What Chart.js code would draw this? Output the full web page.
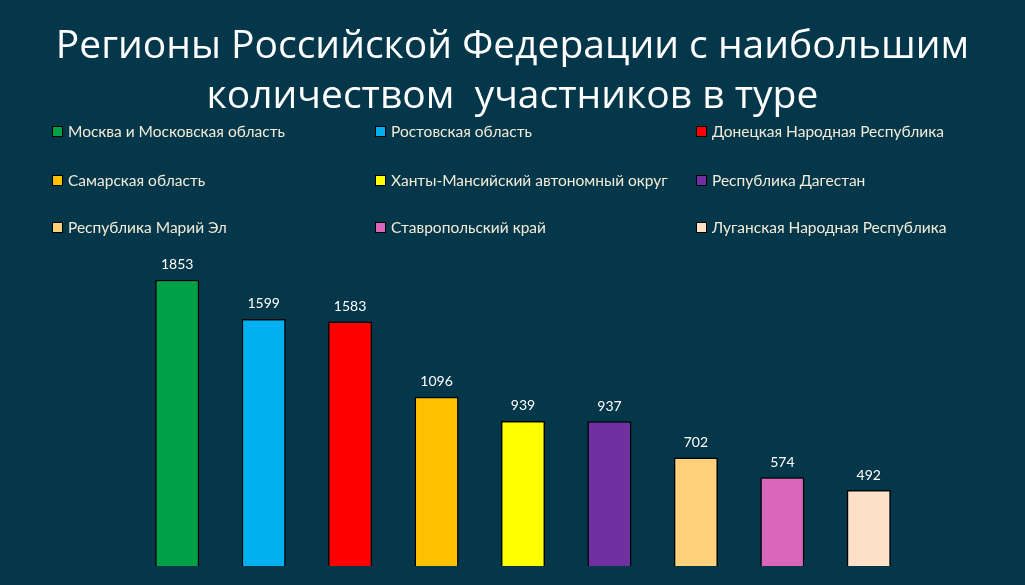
<!DOCTYPE html>
<html><head><meta charset="utf-8">
<script src="https://cdn.jsdelivr.net/npm/chart.js@4"></script>
<style>
html,body{margin:0;padding:0;background:#05374a;width:1025px;height:585px;overflow:hidden;font-family:Lato,"Open Sans",sans-serif}
#title{position:absolute;left:0;top:18px;width:1025px;text-align:center;color:#fff;font-size:39px;line-height:50px;font-family:"Open Sans",Lato,sans-serif}
#legend{position:absolute;left:0;top:0}
.li{position:absolute;color:#f2ecd8;font-size:15.5px;white-space:nowrap;line-height:18px}
.li span{display:inline-block;width:9px;height:9px;border:1px solid #000;margin-right:5px;vertical-align:0px}
#wrap{position:absolute;left:0;top:0;width:1025px;height:585px}
</style></head><body>
<div id="wrap"><canvas id="c"></canvas></div>
<div id="title">Регионы Российской Федерации с наибольшим<br>количеством&nbsp; участников в туре</div>
<div id="legend"></div>
<script>
const categories=["Москва и Московская область","Ростовская область","Донецкая Народная Республика","Самарская область","Ханты-Мансийский автономный округ","Республика Дагестан","Республика Марий Эл","Ставропольский край","Луганская Народная Республика"];
const values=[1853,1599,1583,1096,939,937,702,574,492];
const colors=["#00a046","#00b0f0","#ff0000","#ffc000","#ffff00","#7030a0","#ffd07a","#d966b8","#fde0c8"];
const lg=document.getElementById('legend');
const colX=[52,375,696],rowY=[122,171,218];
categories.forEach((c,i)=>{const d=document.createElement('div');d.className='li';d.style.left=colX[i%3]+'px';d.style.top=rowY[Math.floor(i/3)]+'px';d.innerHTML='<span style="background:'+colors[i]+'"></span>'+c;lg.appendChild(d);});
const labelPlugin={id:'lbl',afterDatasetsDraw(ch){const ctx=ch.ctx;ctx.save();ctx.fillStyle='#fff';ctx.font='14px Lato, sans-serif';ctx.textAlign='center';ctx.textBaseline='bottom';ch.getDatasetMeta(0).data.forEach((b,i)=>ctx.fillText(values[i],b.x,b.y-8));ctx.restore();}};
new Chart(document.getElementById('c'),{type:'bar',
data:{labels:categories,datasets:[{data:values,backgroundColor:colors,borderColor:'#000',borderWidth:1.5,barPercentage:0.6,categoryPercentage:0.85}]},
options:{responsive:true,maintainAspectRatio:false,animation:false,
layout:{padding:{left:134,right:113,top:257,bottom:19}},
plugins:{legend:{display:false},tooltip:{enabled:false}},
scales:{x:{display:false},y:{display:false,min:0,max:2000}}},
plugins:[labelPlugin]});
</script></body></html>
